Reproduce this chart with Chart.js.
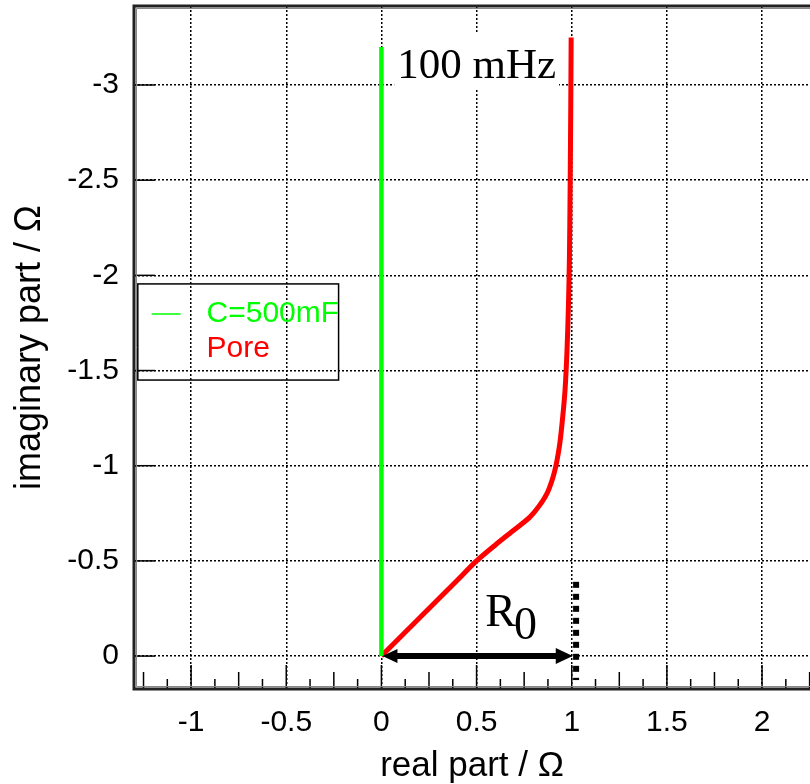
<!DOCTYPE html>
<html>
<head>
<meta charset="utf-8">
<script src="https://cdn.jsdelivr.net/npm/chart.js@4.4.1/dist/chart.umd.min.js"></script>
<style>
html, body { margin: 0; padding: 0; background: #fff; }
#wrap { width: 810px; height: 784px; }
</style>
</head>
<body>
<div id="wrap"><canvas id="myChart" width="810" height="784"></canvas></div>
<script>
// tick values
var xTicks = [-1, -0.5, 0, 0.5, 1, 1.5, 2];
var yTicks = [-3, -2.5, -2, -1.5, -1, -0.5, 0];

// capacitor line
var capX = [0, 0];
var capY = [0, -3.2];

// pore impedance curve
var poreX = [0, 0.1, 0.2, 0.3, 0.4, 0.5, 0.6, 0.7, 0.78, 0.83, 0.875, 0.91, 0.935, 0.952, 0.965, 0.975, 0.983, 0.988, 0.992, 0.995, 0.997];
var poreY = [0, -0.1, -0.2, -0.3, -0.4, -0.5, -0.585, -0.665, -0.73, -0.79, -0.865, -0.97, -1.1, -1.25, -1.4, -1.6, -1.85, -2.1, -2.5, -2.9, -3.25];

var seriesNames = ["C=500mF", "Pore"];
var seriesColors = ["#00ff00", "#ff0000"];

function toPoints(xs, ys) {
    var pts = [];
    for (var i = 0; i < xs.length; i++) pts.push({x: xs[i], y: ys[i]});
    return pts;
}

function arrowHead(ctx, x, y, dir, len, half) {
    ctx.beginPath();
    ctx.moveTo(x, y);
    ctx.lineTo(x - dir * len, y - half);
    ctx.lineTo(x - dir * len, y + half);
    ctx.closePath();
    ctx.fill();
}

var extras = {
    id: 'extras',
    beforeDraw: function(chart) {
        var ctx = chart.ctx;
        ctx.save();
        ctx.fillStyle = '#fff';
        ctx.fillRect(0, 0, chart.width, chart.height);
        ctx.restore();
    },
    afterDatasetsDraw: function(chart) {
        var ctx = chart.ctx;
        var xs = chart.scales.x, ys = chart.scales.y;
        ctx.save();

        // R0 arrow
        var x0 = xs.getPixelForValue(0), x1 = xs.getPixelForValue(1), y0 = ys.getPixelForValue(0);
        ctx.strokeStyle = '#000';
        ctx.fillStyle = '#000';
        ctx.lineWidth = 6;
        ctx.beginPath();
        ctx.moveTo(x0 + 12, y0);
        ctx.lineTo(x1 - 14, y0);
        ctx.stroke();
        arrowHead(ctx, x0 + 1, y0, -1, 15, 7);
        arrowHead(ctx, x1 + 1, y0, 1, 17, 8);

        // dashed marker at R0
        var mx = xs.getPixelForValue(1.023);
        ctx.lineWidth = 6;
        ctx.setLineDash([6, 6]);
        ctx.beginPath();
        ctx.moveTo(mx, ys.getPixelForValue(-0.39));
        ctx.lineTo(mx, ys.getPixelForValue(0.126));
        ctx.stroke();
        ctx.setLineDash([]);

        // R0 label
        ctx.font = '46px "Liberation Serif", "Times New Roman", serif';
        ctx.textBaseline = 'alphabetic';
        ctx.textAlign = 'left';
        var rx = xs.getPixelForValue(0.546), ry = ys.getPixelForValue(-0.158);
        ctx.fillText('R', rx, ry);
        var rw = ctx.measureText('R').width;
        ctx.fillText('0', rx + rw - 2, ry + 13);

        // 100 mHz label with white box
        ctx.font = '43px "Liberation Serif", "Times New Roman", serif';
        var tx = xs.getPixelForValue(0.083), ty = ys.getPixelForValue(-3.037);
        var tw = ctx.measureText('100 mHz').width;
        ctx.fillStyle = '#fff';
        ctx.fillRect(tx - 3, ty - 44, tw + 6, 56);
        ctx.fillStyle = '#000';
        ctx.fillText('100 mHz', tx, ty);

        // legend
        var lx0 = xs.getPixelForValue(-1.28), lx1 = xs.getPixelForValue(-0.225);
        var ly0 = ys.getPixelForValue(-1.955), ly1 = ys.getPixelForValue(-1.45);
        ctx.lineWidth = 1.5;
        ctx.strokeStyle = '#000';
        ctx.strokeRect(lx0, ly0, lx1 - lx0, ly1 - ly0);
        ctx.font = '30px "Liberation Sans", Arial, sans-serif';
        ctx.textBaseline = 'middle';
        var rowsY = [-1.797, -1.613];
        var textX = xs.getPixelForValue(-0.919);
        for (var i = 0; i < seriesNames.length; i++) {
            var py = ys.getPixelForValue(rowsY[i]);
            ctx.fillStyle = seriesColors[i];
            ctx.fillText(seriesNames[i], textX, py);
        }
        ctx.strokeStyle = seriesColors[0];
        ctx.lineWidth = 1.5;
        ctx.beginPath();
        ctx.moveTo(xs.getPixelForValue(-1.207), ys.getPixelForValue(rowsY[0]));
        ctx.lineTo(xs.getPixelForValue(-1.055), ys.getPixelForValue(rowsY[0]));
        ctx.stroke();

        ctx.restore();
    },
    afterDraw: function(chart) {
        var ctx = chart.ctx;
        var xs = chart.scales.x, ys = chart.scales.y;
        var a = chart.chartArea;
        ctx.save();
        ctx.strokeStyle = '#000';
        ctx.lineWidth = 1.5;
        // x axis ticks (major, half, quarter)
        for (var k = -10; k <= 18; k++) {
            var px = xs.getPixelForValue(k / 8);
            if (px < a.left || px > a.right) continue;
            var h = (k % 4 === 0) ? 24 : (k % 2 === 0 ? 17 : 10);
            ctx.beginPath();
            ctx.moveTo(px, a.bottom);
            ctx.lineTo(px, a.bottom - h);
            ctx.stroke();
        }
        // y axis ticks
        yTicks.forEach(function(v) {
            var py = ys.getPixelForValue(v);
            ctx.beginPath();
            ctx.moveTo(a.left, py);
            ctx.lineTo(a.left + 21, py);
            ctx.stroke();
        });
        // frame
        ctx.lineWidth = 3;
        ctx.strokeStyle = '#222';
        ctx.beginPath();
        ctx.moveTo(a.right + 2, a.top);
        ctx.lineTo(a.left, a.top);
        ctx.lineTo(a.left, a.bottom);
        ctx.lineTo(a.right + 2, a.bottom);
        ctx.stroke();
        ctx.lineWidth = 1;
        ctx.strokeStyle = '#888';
        ctx.beginPath();
        ctx.moveTo(a.right + 2, a.top + 2.5);
        ctx.lineTo(a.left + 2.5, a.top + 2.5);
        ctx.lineTo(a.left + 2.5, a.bottom - 2.5);
        ctx.lineTo(a.right + 2, a.bottom - 2.5);
        ctx.stroke();
        ctx.restore();
    }
};

new Chart("myChart", {
    type: "scatter",
    data: {
        datasets: [{
            label: seriesNames[0],
            data: toPoints(capX, capY),
            showLine: true,
            borderColor: seriesColors[0],
            borderWidth: 4.5,
            pointRadius: 0,
            tension: 0
        }, {
            label: seriesNames[1],
            data: toPoints(poreX, poreY),
            showLine: true,
            borderColor: seriesColors[1],
            borderWidth: 5,
            pointRadius: 0,
            tension: 0.3
        }]
    },
    options: {
        responsive: false,
        animation: false,
        devicePixelRatio: 1,
        layout: {padding: {top: 6, right: 0, left: 0, bottom: 0}},
        plugins: {
            legend: {display: false},
            tooltip: {enabled: false}
        },
        scales: {
            x: {
                type: 'linear',
                min: -1.3,
                max: 2.252,
                afterBuildTicks: function(s) { s.ticks = xTicks.map(function(v) { return {value: v}; }); },
                afterFit: function(s) { s.height = 95; s.paddingLeft = 0; s.paddingRight = 0; },
                grid: {color: '#000', lineWidth: 1.5, drawTicks: false},
                border: {display: false, dash: [2, 2]},
                ticks: {
                    padding: 16,
                    color: '#000',
                    font: {family: '"Liberation Sans", Arial, sans-serif', size: 30},
                    callback: function(v) { return String(v); }
                },
                title: {
                    display: true,
                    text: 'real part / Ω',
                    color: '#000',
                    font: {family: '"Liberation Sans", Arial, sans-serif', size: 35, lineHeight: 1},
                    padding: {top: 0, bottom: 0}
                }
            },
            y: {
                type: 'linear',
                min: -3.415,
                max: 0.173,
                reverse: true,
                afterBuildTicks: function(s) { s.ticks = yTicks.map(function(v) { return {value: v}; }); },
                afterFit: function(s) { s.width = 134; s.paddingTop = 0; s.paddingBottom = 0; },
                grid: {color: '#000', lineWidth: 1.5, drawTicks: false},
                border: {display: false, dash: [2, 2]},
                ticks: {
                    padding: 15,
                    color: '#000',
                    font: {family: '"Liberation Sans", Arial, sans-serif', size: 30},
                    callback: function(v) { return String(v); }
                },
                title: {
                    display: true,
                    text: 'imaginary part / Ω',
                    color: '#000',
                    font: {family: '"Liberation Sans", Arial, sans-serif', size: 36, lineHeight: 1},
                    padding: {top: 12, bottom: 0}
                }
            }
        }
    },
    plugins: [extras]
});
</script>
</body>
</html>
